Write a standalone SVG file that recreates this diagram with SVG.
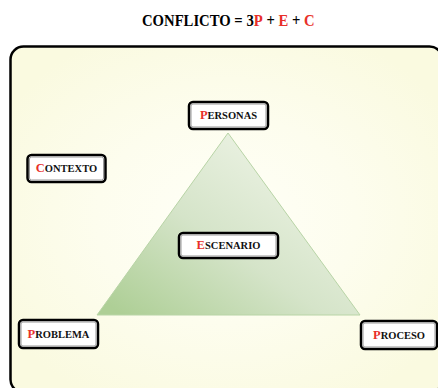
<svg xmlns="http://www.w3.org/2000/svg" width="438" height="388" viewBox="0 0 438 388">
<defs>
<radialGradient id="bg" cx="0.5" cy="0.5" r="0.6">
<stop offset="0" stop-color="#FFFFF7"/>
<stop offset="0.5" stop-color="#FDFDEE"/>
<stop offset="1" stop-color="#FAFAE0"/>
</radialGradient>
<linearGradient id="tri" x1="0.1" y1="1" x2="0.8" y2="0.3">
<stop offset="0" stop-color="#AECF96"/>
<stop offset="0.55" stop-color="#D5E4C9"/>
<stop offset="1" stop-color="#E8F0DF"/>
</linearGradient>
</defs>
<style>
.frame{fill:url(#bg);stroke:#000;stroke-width:2.5}
.box{fill:#fff;stroke:#000;stroke-width:2.5}
.inner{fill:none;stroke:#999;stroke-width:1}
.lbl{font-family:"Liberation Serif","Times New Roman",serif;font-weight:bold;font-size:10.5px;fill:#111;text-anchor:middle}
.cap{font-size:12.5px;fill:#E8302A}
.title{font-family:"Liberation Serif","Times New Roman",serif;font-weight:bold;font-size:17px;fill:#000}
.red{fill:#E8302A}
</style>
<text class="title" transform="translate(142,26) scale(0.865,1)" x="0" y="0">CONFLICTO = 3<tspan class="red">P</tspan> + <tspan class="red">E</tspan> + <tspan class="red">C</tspan></text>
<rect class="frame" x="10.5" y="46.5" width="432" height="346" rx="13"/>
<g id="connectors">
<polygon points="228,133 97,315 360,315" fill="url(#tri)" stroke="#B8D4A6" stroke-width="1"/>
</g>
<g id="personas">
<rect class="box" x="189" y="102" width="79" height="27" rx="4"/>
<rect class="inner" x="191" y="104" width="75" height="23" rx="2"/>
<text class="lbl" x="228.5" y="119"><tspan class="cap">P</tspan>ERSONAS</text>
</g>
<g id="contexto">
<rect class="box" x="27.5" y="155" width="78" height="27" rx="4"/>
<rect class="inner" x="29.5" y="157" width="74" height="23" rx="2"/>
<text class="lbl" x="66.5" y="172"><tspan class="cap">C</tspan>ONTEXTO</text>
</g>
<g id="escenario">
<rect class="box" x="179" y="233" width="99" height="25" rx="4"/>
<rect class="inner" x="181" y="235" width="95" height="21" rx="2"/>
<text class="lbl" x="228.5" y="249"><tspan class="cap">E</tspan>SCENARIO</text>
</g>
<g id="problema">
<rect class="box" x="19" y="320" width="79" height="28" rx="4"/>
<rect class="inner" x="21" y="322" width="75" height="24" rx="2"/>
<text class="lbl" x="58.5" y="338"><tspan class="cap">P</tspan>ROBLEMA</text>
</g>
<g id="proceso">
<rect class="box" x="361" y="321" width="76" height="28" rx="4"/>
<rect class="inner" x="363" y="323" width="72" height="24" rx="2"/>
<text class="lbl" x="399" y="339"><tspan class="cap">P</tspan>ROCESO</text>
</g>
</svg>
